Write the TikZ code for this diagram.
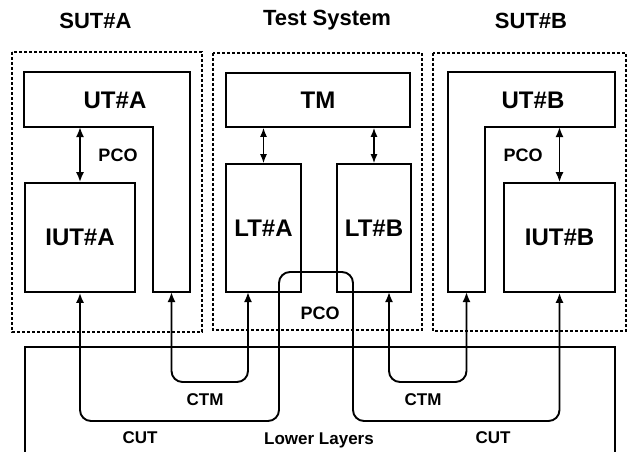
\documentclass[tikz,border=0pt]{standalone}
\usepackage{fontspec}
\setmainfont{Liberation Sans}
\usetikzlibrary{arrows.meta}
\newcommand{\fsz}[1]{\fontsize{#1}{#1}\selectfont\bfseries}
\tikzset{
  dashbox/.style={draw, line width=1.3pt, dash pattern=on 3pt off 2pt},
  solidbox/.style={draw, line width=1.6pt, rectangle, inner sep=0pt},
  conn/.style={line width=1.9pt, rounded corners=11pt, {Latex[length=10pt,width=8pt]}-{Latex[length=10pt,width=8pt]}},
  thinconn/.style={line width=1.5pt, {Latex[length=9pt,width=7pt]}-{Latex[length=9pt,width=7pt]}},
  title/.style={font=\fsz{22}},
  big/.style={font=\fsz{24}},
  small/.style={font=\fsz{17}},
  mid/.style={font=\fsz{18}},
}
\begin{document}
\begin{tikzpicture}[x=1pt,y=-1pt]
\useasboundingbox (0,0) rectangle (629,452);
% titles
\node[title] (tA) at (95.5,20.5) {SUT\#A};
\node[title] (tT) at (327,20.5) {Test System};
\node[title] (tB) at (531,20.5) {SUT\#B};
% dashed system boxes
\draw[dashbox] (12,52) rectangle (202,332);
\draw[dashbox] (213,53) rectangle (422,330);
\draw[dashbox] (433,53) rectangle (626,331);
% lower layers
\draw[line width=1.6pt] (25,455) -- (25,347) -- (615,347) -- (615,455);
% UT#A L-shape
\draw[line width=1.6pt] (24,72) -- (190,72) -- (190,292) -- (153,292) -- (153,127) -- (24,127) -- cycle;
\node[big] (utA) at (115,100) {UT\#A};
\coordinate (utAbot) at (80,127);
\coordinate (utAfoot) at (171.5,292);
% UT#B L-shape
\draw[line width=1.6pt] (448,72) -- (615,72) -- (615,127) -- (485,127) -- (485,292) -- (448,292) -- cycle;
\node[big] (utB) at (533,100) {UT\#B};
\coordinate (utBbot) at (559.5,127);
\coordinate (utBfoot) at (466.5,292);
% boxes
\node[solidbox, big, minimum width=110pt, minimum height=109pt] (iutA) at (80,237.5) {IUT\#A};
\node[solidbox, big, minimum width=111pt, minimum height=109pt] (iutB) at (559.5,237.5) {IUT\#B};
\node[solidbox, big, minimum width=75pt, minimum height=128pt] (ltA) at (263.5,228) {LT\#A};
\node[solidbox, big, minimum width=74pt, minimum height=128pt] (ltB) at (374,228) {LT\#B};
\node[solidbox, big, minimum width=184pt, minimum height=54pt] (tm) at (318,100) {TM};
% vertical links
\draw[conn] (utAbot) -- (iutA.north);
\draw[conn] (utBbot) -- (iutB.north);
\draw[thinconn] (tm.south -| ltA.north) -- (ltA.north);
\draw[thinconn] (tm.south -| ltB.north) -- (ltB.north);
\node[mid] (pcoA) at (118,155) {PCO};
\node[mid] (pcoB) at (523,155) {PCO};
% CTM left
\coordinate (ltAfoot) at (248,292);
\draw[conn] (utAfoot) -- (171.5,382) -- (248,382) -- (ltAfoot);
% CTM right
\coordinate (ltBfoot) at (389,292);
\draw[conn] (ltBfoot) -- (389,382) -- (466.5,382) -- (utBfoot);
% CUT
\draw[conn] (iutA.south) -- (80,421) -- (279,421) -- (279,272) -- (353,272) -- (353,421) -- (559.5,421) -- (iutB.south);
% labels
\node[mid] (pcoM) at (320,313) {PCO};
\node[small] (ctmA) at (205,400) {CTM};
\node[small] (ctmB) at (423,400) {CTM};
\node[small] (cutA) at (140,438) {CUT};
\node[small] (cutB) at (493,438) {CUT};
\node[small] (ll) at (319,440) {Lower Layers};
\end{tikzpicture}
\end{document}
